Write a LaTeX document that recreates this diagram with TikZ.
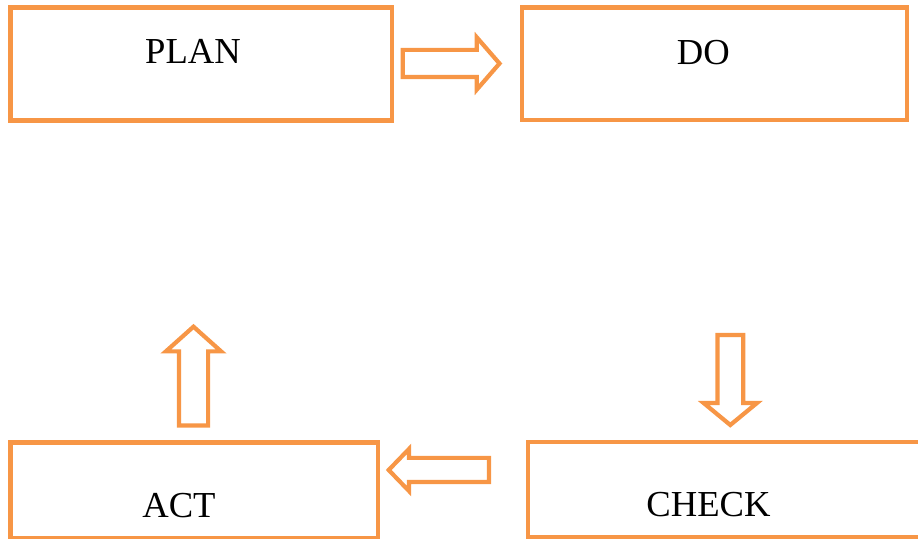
\documentclass[tikz,border=0pt]{standalone}
\usepackage{fontspec}
\setmainfont{Liberation Serif}
\usetikzlibrary{shapes.arrows}

\definecolor{pdcaorange}{HTML}{F79646}

\begin{document}
\begin{tikzpicture}[x=0.5pt,y=-0.5pt,font=\fontsize{18.3}{22}\selectfont,
  phase/.style={rectangle,draw=pdcaorange,line width=2.25pt,inner sep=0pt},
  phasetext/.style={anchor=base,inner sep=0pt},
  blockarrow/.style={single arrow,draw=pdcaorange,fill=white,line width=2.1pt,
    anchor=tail,outer sep=0pt,inner xsep=0pt,inner ysep=6pt,minimum width=0pt,
    minimum height=50pt,single arrow head extend=6.5pt,
    single arrow tip angle=96},
]
  \useasboundingbox (0,0) rectangle (918,539);
  \clip (0,0) rectangle (918,539);

  % phase boxes
  \node[phase,minimum width=190.75pt,minimum height=56.3pt] (plan) at (201.25,64) {};
  \node[phase,minimum width=192.5pt,minimum height=56.25pt] (do) at (714.5,63.8) {};
  \node[phase,minimum width=196.5pt,minimum height=47.75pt] (check) at (724.5,490) {};
  \node[phase,minimum width=183.75pt,minimum height=47.75pt] (act) at (194.25,490.25) {};

  % titles
  \node[phasetext] (plantext) at (193,63.3) {PLAN};
  \node[phasetext] (dotext) at (703.3,64.3) {DO};
  \node[phasetext] (checktext) at (708.5,517) {CHECK};
  \node[phasetext] (acttext) at (179,517.3) {ACT};

  % block arrows between the phases
  \node[blockarrow,inner ysep=5.75pt,single arrow head extend=6.25pt,
        minimum height=48.4pt,single arrow tip angle=98] (plan2do) at (402.7,63.5) {};
  \node[blockarrow,rotate=-90,inner ysep=5.4pt,single arrow head extend=6.85pt,
        minimum height=45pt,single arrow tip angle=101] (do2check) at (730.3,335) {};
  \node[blockarrow,rotate=180,inner ysep=5pt,single arrow head extend=4.5pt,
        minimum height=50.15pt,single arrow tip angle=92] (check2act) at (489,470) {};
  \node[blockarrow,rotate=90,inner ysep=6.25pt,single arrow head extend=6.5pt,
        minimum height=49.4pt,single arrow tip angle=96.4] (act2plan) at (193.5,425.5) {};
\end{tikzpicture}
\end{document}
